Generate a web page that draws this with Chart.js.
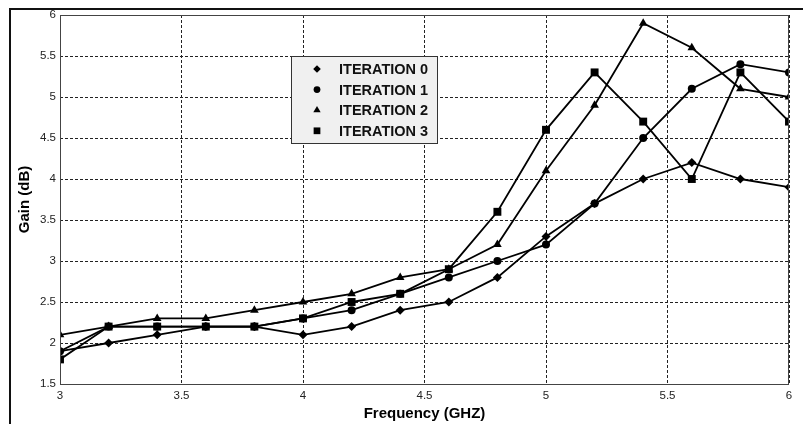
<!DOCTYPE html>
<html>
<head>
<meta charset="utf-8">
<script src="https://cdn.jsdelivr.net/npm/chart.js@4.4.0/dist/chart.umd.min.js"></script>
<style>
  body { margin: 0; background: #fff; }
  .wrap { position: relative; width: 803px; height: 424px; overflow: hidden; }
  .frame { position: absolute; left: 9px; top: 8px; right: -10px; bottom: -10px;
    border-left: 2px solid #111; border-top: 2px solid #111; }
  canvas { position: absolute; left: 0; top: 0; }
</style>
</head>
<body>
<div class="wrap">
  <div class="frame"></div>
  <canvas id="gainChart" width="803" height="424"></canvas>
</div>
<script>
// frequency points (GHz)
const frequencies = [3, 3.2, 3.4, 3.6, 3.8, 4, 4.2, 4.4, 4.6, 4.8, 5, 5.2, 5.4, 5.6, 5.8, 6]

// gain (dB) per iteration
const iteration0 = [1.9, 2.0, 2.1, 2.2, 2.2, 2.1, 2.2, 2.4, 2.5, 2.8, 3.3, 3.7, 4.0, 4.2, 4.0, 3.9]
const iteration1 = [1.9, 2.2, 2.2, 2.2, 2.2, 2.3, 2.4, 2.6, 2.8, 3.0, 3.2, 3.7, 4.5, 5.1, 5.4, 5.3]
const iteration2 = [2.1, 2.2, 2.3, 2.3, 2.4, 2.5, 2.6, 2.8, 2.9, 3.2, 4.1, 4.9, 5.9, 5.6, 5.1, 5.0]
const iteration3 = [1.8, 2.2, 2.2, 2.2, 2.2, 2.3, 2.5, 2.6, 2.9, 3.6, 4.6, 5.3, 4.7, 4.0, 5.3, 4.7]

const seriesLabels = ['ITERATION 0', 'ITERATION 1', 'ITERATION 2', 'ITERATION 3']
const seriesValues = [iteration0, iteration1, iteration2, iteration3]
const markerStyles = ['rectRot', 'circle', 'triangle', 'rect']
const markerSizes = [4.5, 4, 5, 5.6]

const xTitle = 'Frequency (GHZ)'
const yTitle = 'Gain (dB)'

function makeDataset(i) {
  return {
    label: seriesLabels[i],
    data: frequencies.map((f, k) => ({ x: f, y: seriesValues[i][k] })),
    borderColor: '#000',
    backgroundColor: '#000',
    borderWidth: 1.8,
    pointStyle: markerStyles[i],
    pointRadius: markerSizes[i],
    pointBorderWidth: 0,
    tension: 0,
  }
}

//ramka wykresu (solid, nad przerywana siatka)
const framePlugin = {
  id: 'plotFrame',
  afterDatasetsDraw(chart) {
    const { ctx, chartArea } = chart
    ctx.save()
    ctx.strokeStyle = '#444'
    ctx.lineWidth = 1
    ctx.setLineDash([])
    ctx.strokeRect(chartArea.left + 0.5, chartArea.top + 0.5,
      chartArea.right - chartArea.left - 1, chartArea.bottom - chartArea.top)
    ctx.restore()
  },
}

//legenda w srodku wykresu
const boxLegend = {
  id: 'boxLegend',
  afterDraw(chart) {
    const ctx = chart.ctx
    const left = 291, top = 56, w = 146, h = 87
    ctx.save()
    ctx.fillStyle = '#f0f0f0'
    ctx.fillRect(left, top, w, h)
    ctx.strokeStyle = '#333'
    ctx.lineWidth = 1
    ctx.strokeRect(left + 0.5, top + 0.5, w, h)
    chart.data.datasets.forEach((ds, i) => {
      const y = top + 13 + i * 20.6
      ctx.fillStyle = '#000'
      ctx.strokeStyle = '#000'
      Chart.helpers.drawPoint(ctx, {
        pointStyle: ds.pointStyle,
        radius: ds.pointRadius * 0.85,
        borderWidth: 0,
        rotation: 0,
      }, 317, y)
      ctx.fillStyle = '#111'
      ctx.font = 'bold 14.5px "Liberation Sans", Arial, sans-serif'
      ctx.textBaseline = 'middle'
      ctx.textAlign = 'left'
      ctx.fillText(ds.label, 339, y + 1)
    })
    ctx.restore()
  },
}

const tickFont = { family: '"Liberation Sans", Arial, sans-serif', size: 11.5 }
const titleFont = { family: '"Liberation Sans", Arial, sans-serif', size: 15, weight: 'bold' }

new Chart(document.getElementById('gainChart'), {
  type: 'line',
  data: { datasets: seriesValues.map((_, i) => makeDataset(i)) },
  options: {
    responsive: false,
    animation: false,
    layout: { padding: { top: 15, right: 14, left: 0, bottom: 0 } },
    plugins: { legend: { display: false }, tooltip: { enabled: false } },
    scales: {
      x: {
        type: 'linear',
        min: 3,
        max: 6,
        afterFit: (scale) => { scale.height = 40 },
        ticks: { stepSize: 0.5, color: '#222', font: tickFont, padding: 5, maxRotation: 0,
          callback: (v) => String(v) },
        grid: { color: '#222', lineWidth: 1, drawTicks: false },
        border: { display: false, dash: [3, 2] },
        title: { display: true, text: xTitle, color: '#000', font: titleFont, padding: { top: 0, bottom: 1 } },
      },
      y: {
        min: 1.5,
        max: 6,
        afterFit: (scale) => { scale.width = 60 },
        ticks: { stepSize: 0.5, color: '#222', font: tickFont, padding: 4,
          callback: (v) => String(v) },
        grid: { color: '#222', lineWidth: 1, drawTicks: false },
        border: { display: false, dash: [3, 2] },
        title: { display: true, text: yTitle, color: '#000', font: titleFont, padding: { top: 16, bottom: 0 } },
      },
    },
  },
  plugins: [framePlugin, boxLegend],
})
</script>
</body>
</html>
